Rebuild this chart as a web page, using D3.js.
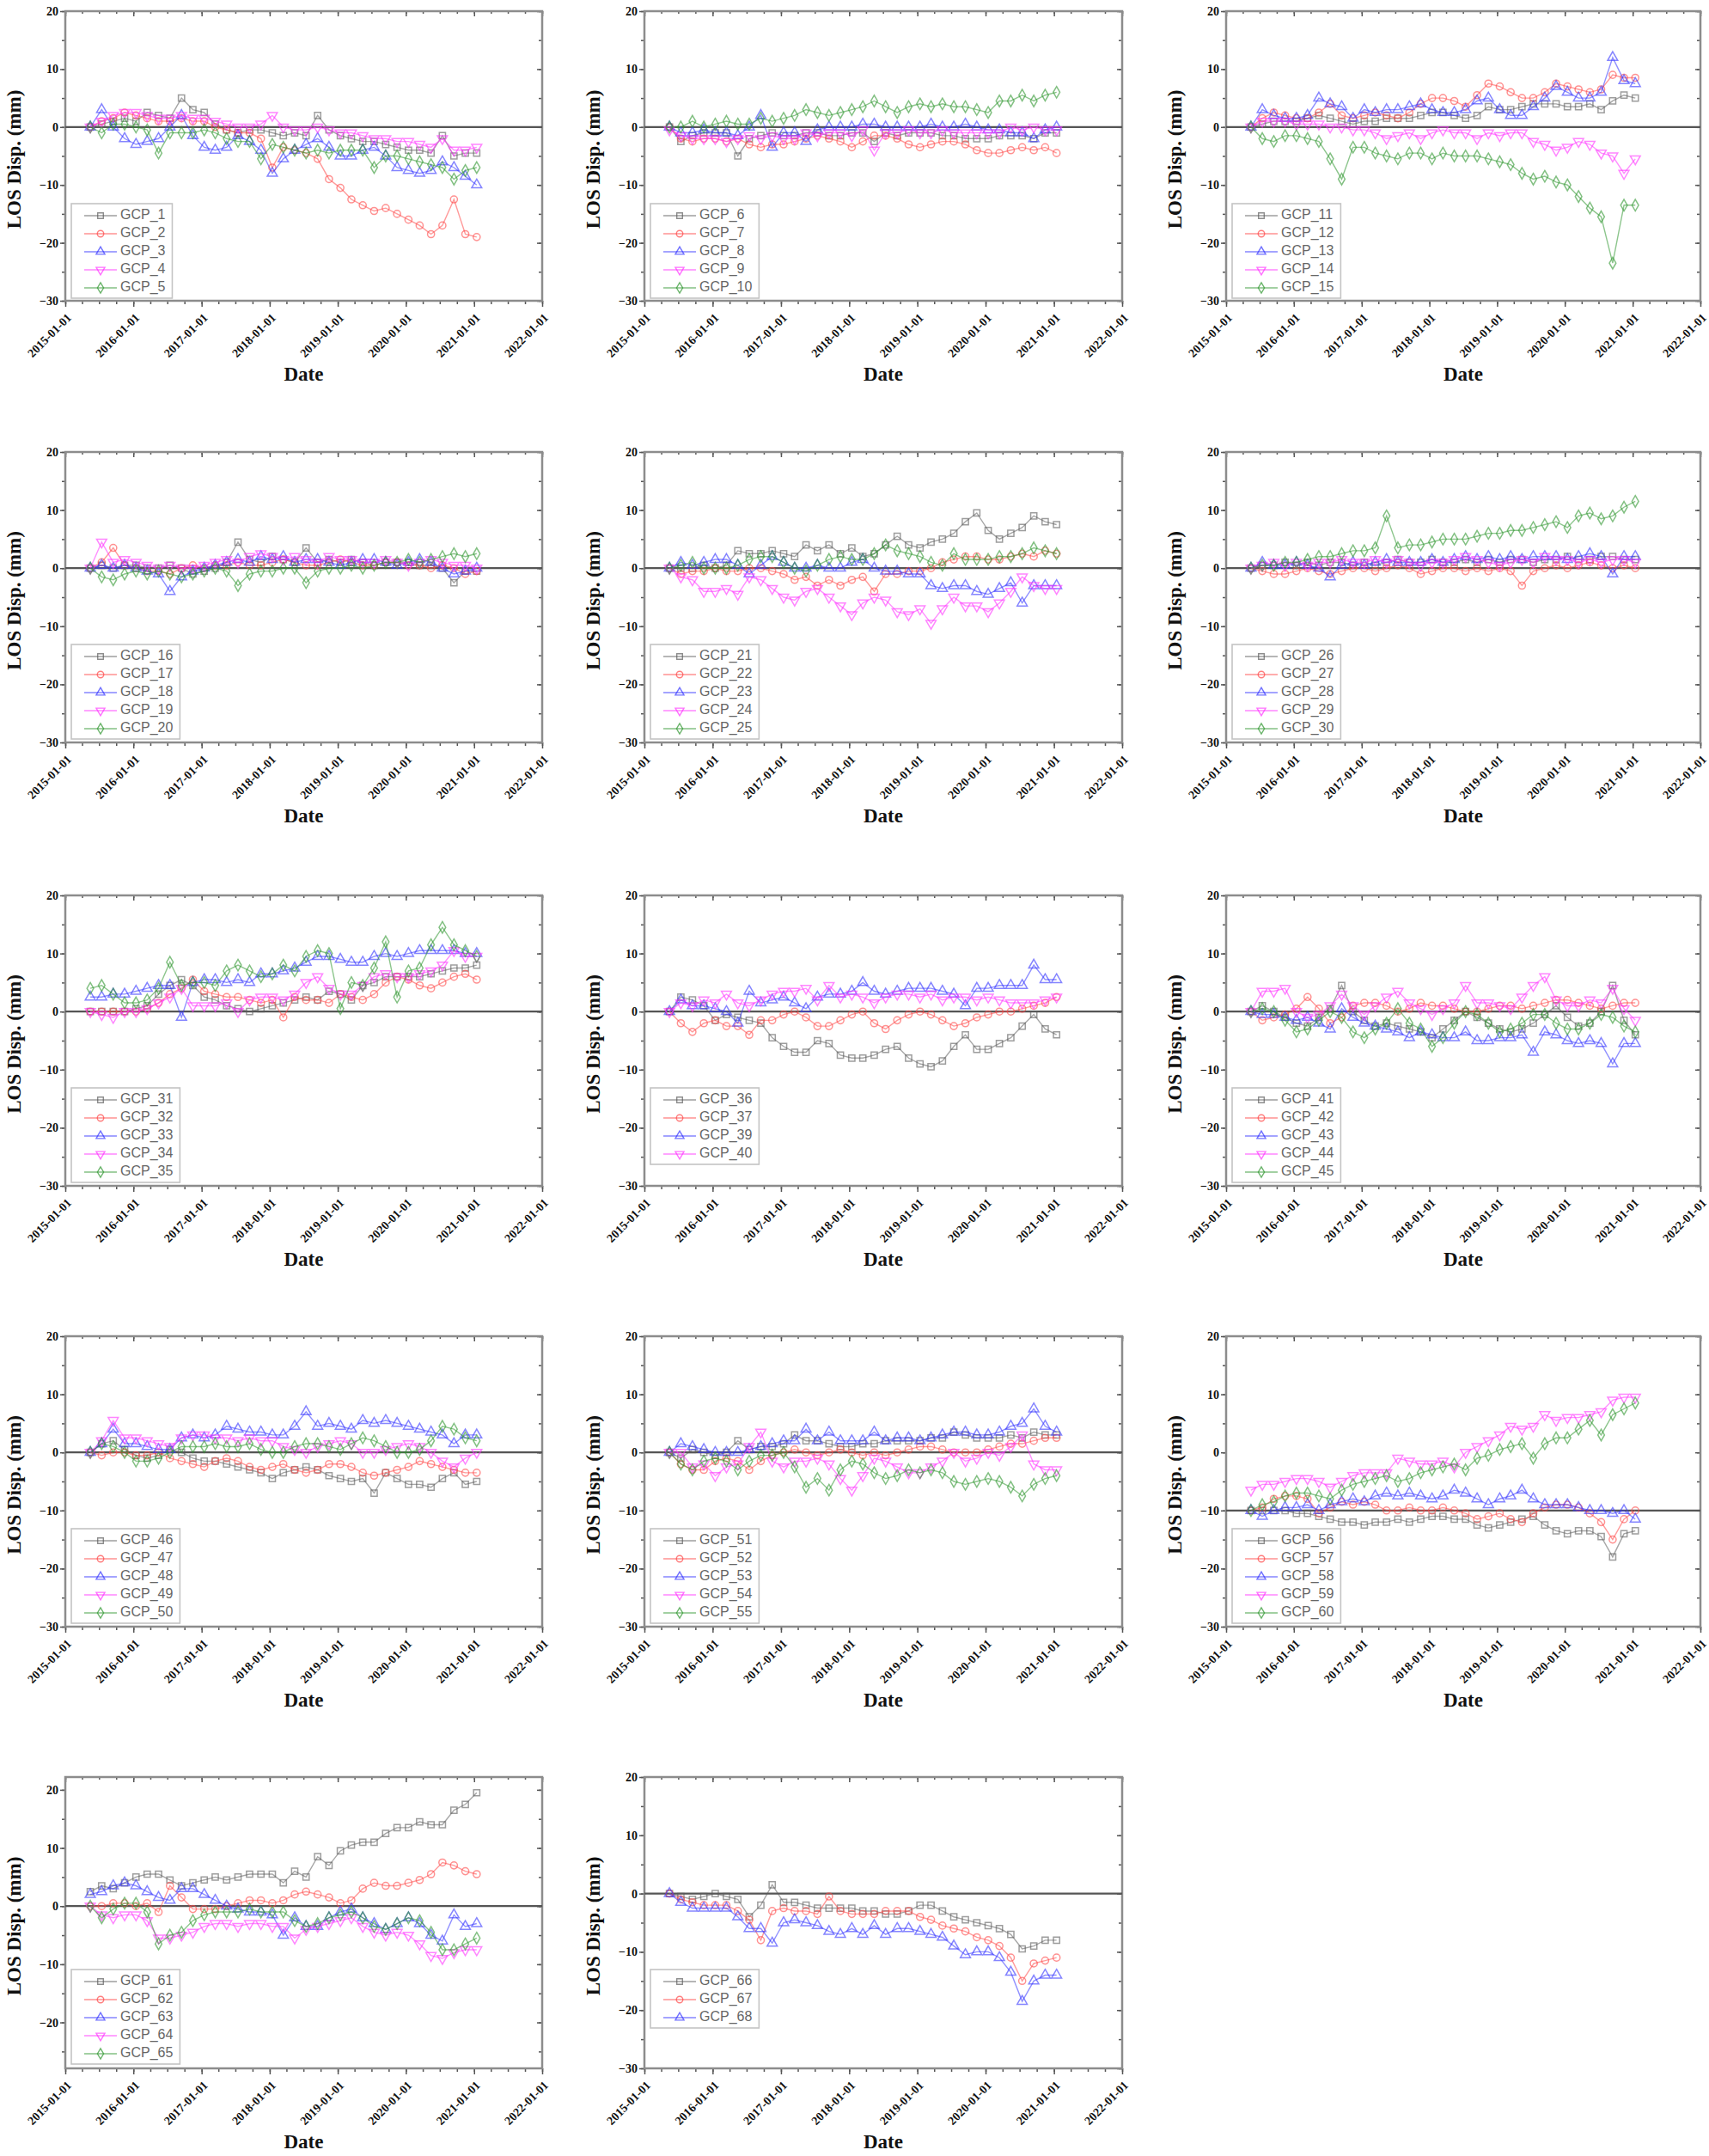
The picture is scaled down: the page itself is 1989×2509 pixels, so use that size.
<!DOCTYPE html>
<html><head><meta charset="utf-8">
<script src="https://cdn.jsdelivr.net/npm/d3@7"></script>
<style>body{margin:0;background:#fff}svg{display:block}</style>
</head><body>
<svg id="chart" width="1989" height="2509"></svg>
<script>
// ---------- DATA ----------
const dates = ["2015-05-15","2015-07-15","2015-09-15","2015-11-15","2016-01-15","2016-03-15","2016-05-15","2016-07-15","2016-09-15","2016-11-15",
"2017-01-15","2017-03-15","2017-05-15","2017-07-15","2017-09-15","2017-11-15","2018-01-15","2018-03-15","2018-05-15","2018-07-15",
"2018-09-15","2018-11-15","2019-01-15","2019-03-15","2019-05-15","2019-07-15","2019-09-15","2019-11-15","2020-01-15","2020-03-15",
"2020-05-15","2020-07-15","2020-09-15","2020-11-15","2021-01-15"];
const xTickLabels = ["2015-01-01","2016-01-01","2017-01-01","2018-01-01","2019-01-01","2020-01-01","2021-01-01","2022-01-01"];
const yTickValues = [20,10,0,-10,-20,-30];

const GCP_1 = [0,0.5,1,1.5,1,2.5,2,1.5,5,3,2.5,0.5,-0.5,-1,-0.5,-0.5,-1,-1.5,-1,-1.5,2,-0.5,-1.5,-2,-2.5,-2.5,-3,-3.5,-4,-4,-4.5,-1.5,-5,-4.5,-4.5];
const GCP_2 = [0,1,1.5,2.5,2,1.5,1,1,1.5,1,1,0,-0.5,-1,-1,-2,-7,-3.5,-4,-4.5,-5.5,-9,-10.5,-12.5,-13.5,-14.5,-14,-15,-16,-17,-18.5,-17,-12.5,-18.5,-19];
const GCP_3 = [0,3,0,-2,-3,-2.5,-2,0,2,-1.5,-3.5,-4,-3.5,-1.5,-2.5,-4,-8,-5.5,-4,-3,-2,-3.5,-5,-5,-4,-3.5,-5,-7,-7.5,-8,-7.5,-6,-7,-8.5,-10];
const GCP_4 = [0,1,2,2.5,2.5,2,1.5,1.5,2,1.5,1.5,1,0.5,0,0,0.5,2,0,-0.5,-0.5,0,-0.5,-1,-1,-1.5,-2,-2,-2.5,-2.5,-3,-3.5,-2,-4,-4,-3.5];
const GCP_5 = [0,-1,0.5,0.5,0,-0.5,-4.5,-1,-1,-1,-0.5,-1,-2,-2.5,-2.5,-5.5,-3,-3.5,-4,-4.5,-4,-4.5,-4,-4,-4,-7,-5,-5,-5.5,-6,-6.5,-7,-9,-7.5,-7];

const GCP_6 = [0,-2.5,-1.5,-1,-1,-1,-5,-2,-1.5,-1,-1.5,-1.5,-1,-1,-1.5,-1.5,-1,-1,-2.5,-1,-1.5,-1,-1,-1,-1.5,-1.5,-2,-2,-2,-1.5,-1.5,-1.5,-2,-1,-1];
const GCP_7 = [0,-2,-2.5,-2,-2,-2.5,-2,-3,-3.5,-3,-3,-2.5,-2,-1.5,-2,-2.5,-3.5,-2.5,-1.5,-1.5,-2,-3,-3.5,-3,-2.5,-2.5,-3,-4,-4.5,-4.5,-4,-3.5,-4,-3.5,-4.5];
const GCP_8 = [0,-1,-1,-0.5,-1,-1,-1.5,0,2,-3.5,-1,-1,-2.5,-0.5,0,0,0,0.5,0.5,0,0,0,0,0.5,0,0,0.5,0,-0.5,-0.5,-1,-1,-2,-0.5,0];
const GCP_9 = [-0.5,-1.5,-2,-2,-2,-2.5,-2,-1.5,-2,-1.5,-2,-2,-1,-1.5,-1,-1,-1.5,-0.5,-4,-1,-1,-0.5,-1,-1,-0.5,-1,-1,-1,-1,-1,0,-0.5,0,-0.5,-0.5];
const GCP_10 = [0,0,1,0,0.5,1,0.5,0.5,1.5,1,1.5,2,3,2.5,2,2.5,3,3.5,4.5,3.5,2.5,3.5,4,3.5,4,3.5,3.5,3,2.5,4.5,4.5,5.5,4.5,5.5,6];

const GCP_11 = [0,0.5,1,1,1,1.5,2,1.5,1,0.5,1,1,1.5,1.5,1.5,2,2.5,2.5,2,1.5,2,3.5,3,3,3.5,4,4,4,3.5,3.5,4,3,4.5,5.5,5];
const GCP_12 = [0,1.5,2.5,2,1.5,1.5,2.5,4,2,1.5,2,2.5,2,1.5,2.5,4,5,5,4.5,3.5,5.5,7.5,7,6,5,5,6,7.5,7,6.5,6,6.5,9,8.5,8.5];
const GCP_13 = [0,3,2,1.5,1.5,2,5,4,3.5,1.5,3,2.5,3,3,3.5,4,3,2.5,2.5,3,4.5,5,3,2,2,3.5,5,7,6,5,5,6,12,8,7.5];
const GCP_14 = [0,1,1,1,0.5,0.5,0.5,0,0,-0.5,-0.5,-1,-2,-1.5,-1,-2,-1,-0.5,-1,-1,-2,-1,-1.5,-1,-1,-2.5,-3,-4,-3.5,-2.5,-3,-4.5,-5,-8,-5.5];
const GCP_15 = [0,-2,-2.5,-1.5,-1.5,-2,-2.5,-5.5,-9,-3.5,-3.5,-4.5,-5,-5.5,-4.5,-4.5,-5.5,-4.5,-5,-5,-5,-5.5,-6,-6.5,-8,-9,-8.5,-9.5,-10,-12,-14,-15.5,-23.5,-13.5,-13.5];

const GCP_16 = [0,0.5,0,0.5,0.5,0,0,0.5,0,-1,-0.5,0,1,4.5,1.5,1,2,1.5,1,3.5,1,1.5,1,1.5,1,0.5,1,1,1,0.5,0.5,0,-2.5,-0.5,-0.5];
const GCP_17 = [0,1,3.5,0.5,0,-0.5,-0.5,-1,0,0.5,0,0.5,0.5,1,0.5,0.5,1,1.5,1,0.5,0.5,1,1.5,1,0.5,0.5,1,1,0.5,0.5,0,0.5,0,-1,-0.5];
const GCP_18 = [0,0.5,0,0.5,0,-0.5,-1,-4,-1.5,-0.5,0,0.5,1,1.5,1,2,1.5,2,1,1.5,1.5,1,0.5,1,1.5,1.5,1,0.5,1,1.5,1,0,-1,-0.5,0];
const GCP_19 = [0,4.5,1,1.5,1,0.5,0,0.5,0,0,0.5,1,1.5,1,2,2.5,2,1.5,2,1.5,1,2,1.5,1.5,1,1,1.5,1,0.5,1,1.5,1,0.5,0.5,0];
const GCP_20 = [0,-1.5,-2,-1,-0.5,-1,-0.5,-1,-1.5,-1,-0.5,0,-0.5,-3,-1,-0.5,-0.5,0,0,-2.5,-0.5,0,0,0.5,0,0.5,1,1,1.5,1,1.5,2,2.5,2,2.5];

const GCP_21 = [0,0,0,0.5,0,0.5,3,2.5,2.5,3,2.5,2,4,3,4,2.5,3.5,2,2.5,4,5.5,4,3.5,4.5,5,6,8,9.5,6.5,5,6,7,9,8,7.5];
const GCP_22 = [0,-1,-0.5,-0.5,0,-0.5,-0.5,0,0,-0.5,-1,-2,-1.5,-3,-2,-3,-2,-1.5,-4,-1,-1,-0.5,-0.5,0,1,1.5,2,2,1.5,1.5,2,2.5,2,3,2.5];
const GCP_23 = [0,1,0.5,1,1.5,1.5,0.5,-1,0.5,2,1,0,0,0.5,0,0,1,1.5,0,-0.5,-0.5,-1,-1,-3,-3.5,-3,-3,-4,-4.5,-3.5,-2.5,-6,-3,-3,-3];
const GCP_24 = [0,-1.5,-2,-4,-4,-3.5,-4.5,-1.5,-2,-3.5,-5,-5.5,-4,-3.5,-5,-6.5,-8,-6,-5,-5.5,-7.5,-8,-7,-9.5,-7,-5,-6.5,-6.5,-7.5,-6,-4,-1.5,-3,-3.5,-3.5];
const GCP_25 = [0,0.5,1,0,0,0,0.5,1.5,2,2,1,0,-0.5,0.5,1.5,2,1.5,1.5,2.5,4,3,2.5,2,1,0.5,2.5,1.5,1.5,1.5,2,2,2.5,3.5,3,2.5];

const GCP_26 = [0,0.5,0.5,1,0.5,1,0.5,1,1,0.5,1,0.5,1,1.5,1,1,1.5,1,1,1.5,1,1.5,1,1.5,1.5,1,1.5,1.5,2,1.5,1.5,2,2,1.5,1.5];
const GCP_27 = [0,-0.5,-1,-1,-0.5,0,-0.5,-1,-0.5,0,0,-0.5,0,0.5,0,-1,-0.5,0,0,-0.5,0,-0.5,0,-0.5,-3,-0.5,0,0.5,0,0.5,1,0.5,0,0.5,0];
const GCP_28 = [0,1,0.5,0.5,1,0.5,0,-1.5,0.5,1,0.5,1,1.5,1,1,1,1.5,1,1.5,2,1.5,2,1.5,2,1.5,2,2,2,1.5,2,2.5,2,-1,2,2];
const GCP_29 = [0,0.5,1,0.5,1,0.5,1,1,1.5,1,1,1.5,1,1.5,1,0.5,1,1,1.5,2,1.5,1,0.5,1,1.5,1,2,1.5,1.5,1,1.5,1,1.5,1.5,1];
const GCP_30 = [0,0.5,0.5,1,1,1.5,2,2,2.5,3,3,3.5,9,3.5,4,4,4.5,5,5,5,5.5,6,6,6.5,6.5,7,7.5,8,7,9,9.5,8.5,9,10.5,11.5];

const GCP_31 = [0,0,0,0,0.5,1,3,4.5,5.5,4.5,2.5,2,1,0.5,0,0.5,1,1.5,2,2.5,2,3.5,3,2,4.5,5,6,6,6,6,6.5,7,7.5,7.5,8];
const GCP_32 = [0,0,0,0,0,0.5,1.5,3,4,5.5,3.5,3,2.5,2.5,2,1.5,2,-1,2.5,2,2,1.5,3,2.5,2,3,5,6,5.5,4.5,4,5,6,6.5,5.5];
const GCP_33 = [2.5,2.5,3,3,3.5,4,4.5,4.5,-1,5,5.5,5.5,5,5.5,5,6.5,6.5,7,7.5,8.5,9.5,9.5,9,8.5,8.5,9.5,10,9.5,10,10.5,10.5,10.5,10.5,10,10];
const GCP_34 = [0,-0.5,-1,0,0,0.5,1.5,2.5,4,1,1,1,1.5,0,2,2.5,2.5,2,3,5,6,4,3,3,4.5,6,6.5,6,6,6.5,7,8,10.5,9.5,9.5];
const GCP_35 = [4,4.5,3,1.5,1.5,2,4,8.5,4.5,5,5,4.5,7,8,7,6,6.5,8,7,9.5,10.5,10,0.5,5,4.5,7.5,12,2.5,7,7.5,11.5,14.5,11.5,10.5,9.5];

const GCP_36 = [0,2.5,2,1,-1.5,-0.5,-1,-1.5,-2,-4.5,-6,-7,-7,-5,-5.5,-7.5,-8,-8,-7.5,-6.5,-6,-8,-9,-9.5,-8.5,-6,-4,-6.5,-6.5,-5.5,-4.5,-2.5,-0.5,-3,-4];
const GCP_37 = [0,-2,-3.5,-2,-1.5,-2.5,-2.5,-4,-1.5,-1.5,-0.5,0,-1,-2.5,-2.5,-1.5,-0.5,0,-2,-3,-1.5,-0.5,0,-0.5,-1.5,-2.5,-2,-1,-0.5,0,0,0.5,1,1.5,2.5];
const GCP_39 = [0,2,1,1,0.5,0,-2,3.5,1.5,2,2.5,1.5,0.5,2.5,3,3,3.5,5,3.5,3,3.5,4,4,4,3.5,3,1,4,4,4.5,4.5,4.5,8,5.5,5.5];
const GCP_40 = [0,1.5,1,2,1.5,3,1.5,1,2,3,3.5,3.5,4,2,4.5,2.5,3,2.5,1.5,2.5,3,3,2.5,3,2,2.5,2.5,2,2.5,2,1.5,1.5,1.5,2,2.5];

const GCP_41 = [0,1,0,-1,-2,-2.5,-1,0.5,4.5,0,-1.5,-2.5,-2,-2.5,-3,-3.5,-4.5,-3,-1.5,0,-1,-2,-3,-3.5,-3,-2,-0.5,1,-1,-2.5,-2,0,4.5,-1.5,-4];
const GCP_42 = [0,-1.5,-1,-0.5,0.5,2.5,0.5,-2,-1,1,1.5,1.5,1,0,0.5,1.5,1,1,0.5,0,0,0.5,1,1,0.5,1,1.5,2,2,1.5,1,0.5,1,1.5,1.5];
const GCP_43 = [0,-0.5,-0.5,-1,-1.5,-1,-2,-3,0.5,-1,-2,-2.5,-3,-3.5,-4.5,-3.5,-4,-4.5,-4.5,-3.5,-5,-5,-4.5,-4.5,-4,-7,-3.5,-4,-5,-5.5,-5,-5.5,-9,-5.5,-5.5];
const GCP_44 = [0,3.5,3.5,4,0,-1,-0.5,1,3,1,-0.5,1,2.5,3.5,1.5,0.5,-0.5,0.5,1.5,4.5,1.5,1.5,1,0.5,2.5,4.5,6,2,1,1,2,1.5,4,0.5,-1.5];
const GCP_45 = [0,0.5,0,-1.5,-3.5,-3,-1.5,0,-1,-3.5,-4.5,-3,-2,0.5,-2,-3,-6,-4.5,-2,0,-0.5,-2,-3.5,-3,-2,-0.5,-0.5,-2,-3,-3,-2,-0.5,-1,-2.5,-3.5];

const GCP_46 = [0,1.5,2,0.5,-0.5,-1,-0.5,0.5,0,-1,-1.5,-1.5,-2,-2.5,-3,-3.5,-4.5,-3.5,-3,-2.5,-3,-4,-4.5,-5,-4.5,-7,-3.5,-4.5,-5.5,-5.5,-6,-4.5,-3.5,-5.5,-5];
const GCP_47 = [0,-0.5,0,0,-0.5,-0.5,0,-1,-1.5,-2,-2.5,-1.5,-1,-1.5,-2.5,-3,-2.5,-2,-3,-3.5,-3,-2,-2,-2.5,-3.5,-4,-3.5,-3,-2.5,-1.5,-2,-2.5,-3,-3.5,-3.5];
const GCP_48 = [0,1.5,4,1.5,1.5,1,0.5,0.5,2.5,3,2.5,3,4.5,4,3.5,3.5,3,3,4.5,7,4.5,5,4.5,4,5.5,5,5.5,5,4.5,4,3.5,3,1.5,3,3];
const GCP_49 = [0,2,5.5,2.5,2.5,2,1.5,1,2.5,3,3,2.5,2.5,2,2.5,2,2,1,0.5,0,1,1.5,2,1.5,0,0,0.5,1,1.5,1,0,-1.5,-2.5,-1,0];
const GCP_50 = [0,1.5,1,0,-1.5,-1.5,-1,0,1,1,1,1.5,1,1,1.5,0.5,0,0,1,1.5,1.5,1,0.5,1.5,2.5,2,1,0,0,0.5,2,4.5,4,2.5,2];

const GCP_51 = [0,-1,0.5,0,-0.5,0,2,0.5,1,1,1.5,3,2,2,1.5,1,1,1.5,1.5,2,2,2,2,2.5,2.5,3.5,3,2.5,2.5,2.5,3,2.5,3.5,3,3];
const GCP_52 = [0,-2,-3,-3,-1.5,-1,-1.5,-3,-1.5,-0.5,0,0.5,0,-0.5,0,0.5,0,-0.5,0,-0.5,0,0.5,1,1,0.5,0,0,0,0.5,1,1.5,1.5,2,2.5,2.5];
const GCP_53 = [0,1.5,1,0.5,0,0,0,0.5,1,1.5,2,2,4,2,3.5,2,2,2,3.5,2,2.5,2.5,2,2.5,3,3.5,3.5,3,3,3.5,4.5,5,7.5,4.5,3.5];
const GCP_54 = [0,0,-2.5,-2,-4,-2.5,-2,1,3.5,-1.5,-2.5,-1.5,-1.5,-1,-2,-4.5,-6.5,-4,-1,-1.5,-2.5,-3.5,-3.5,-2.5,-1.5,0,-1.5,-1,0,-0.5,1,3,-2,-3,-3];
const GCP_55 = [0,-2,-3,-1.5,-1,-1.5,-3,-1.5,-0.5,-0.5,0,-2.5,-6,-4.5,-6.5,-3,-1.5,-2,-3.5,-4.5,-4,-3,-3.5,-3,-3.5,-5,-5.5,-5,-4.5,-5,-6,-7.5,-5.5,-4.5,-4];

const GCP_56 = [-10,-10,-10,-10,-10.5,-10.5,-11,-11.5,-12,-12,-12.5,-12,-12,-11.5,-12,-11.5,-11,-11,-11.5,-11.5,-12.5,-13,-12.5,-12,-11.5,-11,-12.5,-13.5,-14,-13.5,-13.5,-14.5,-18,-14,-13.5];
const GCP_57 = [-10,-9.5,-8,-7.5,-7.5,-8,-10.5,-9.5,-8.5,-9,-8.5,-9,-10,-10,-9.5,-10,-10,-9.5,-10,-10.5,-11.5,-11,-10.5,-11.5,-12,-10.5,-9.5,-9,-9,-9.5,-10.5,-12,-15,-11.5,-10];
const GCP_58 = [-10,-11,-10,-9.5,-9.5,-9,-10,-9,-8.5,-8,-8.5,-7.5,-7,-7.5,-7,-7.5,-8,-7.5,-6.5,-7,-8,-9,-8,-7.5,-6.5,-8,-9,-9,-9,-9.5,-10,-10,-10.5,-10,-11.5];
const GCP_59 = [-6.5,-5.5,-5.5,-5,-4.5,-4.5,-5,-6,-5,-4,-3.5,-3.5,-3.5,-1,-1.5,-2,-2,-1.5,-2.5,0,1,2,3,4.5,4,4.5,6.5,5.5,6,6,6.5,7,9,9.5,9.5];
const GCP_60 = [-10,-9,-8.5,-7.5,-7,-7,-7.5,-8,-6.5,-5.5,-5,-4.5,-4,-5,-4.5,-3.5,-3,-2.5,-2,-3,-1,-0.5,0.5,1,1.5,-1,1.5,2.5,2.5,4,5.5,3,6.5,7.5,8.5];

const GCP_61 = [2.5,3.5,3,4,5,5.5,5.5,4.5,3.5,4,4.5,5,4.5,5,5.5,5.5,5.5,4,6,5,8.5,7,9.5,10.5,11,11,12.5,13.5,13.5,14.5,14,14,16.5,17.5,19.5];
const GCP_62 = [0,0,0.5,0.5,0,0.5,-1,3.5,1.5,-0.5,-0.5,-0.5,0,0.5,1,1,0.5,1,2,2.5,2,1.5,0.5,1,3,4,3.5,3.5,4,4.5,5.5,7.5,7,6,5.5];
const GCP_63 = [2,2.5,3.5,4,3.5,2.5,1.5,1,3,3,2,1,0,-0.5,-1,-1,-1.5,-5,-2,-3.5,-3.5,-2,-1,-0.5,-2,-3,-4,-3,-2,-3,-5,-6,-1.5,-3.5,-3];
const GCP_64 = [0,-1.5,-2,-1.5,-1.5,-2.5,-5.5,-5.5,-5,-4.5,-3.5,-3,-3,-3.5,-3,-3,-3.5,-3.5,-5.5,-4,-3.5,-3,-2.5,-2,-3.5,-4.5,-5,-4.5,-5,-6.5,-8.5,-9,-8,-7.5,-7.5];
const GCP_65 = [0,-2,-0.5,0.5,0.5,-1,-6.5,-5,-4.5,-2.5,-1.5,-1,-1,-1,-0.5,-1,-1,-1,-2.5,-3.5,-3,-2,-1.5,-1,-2,-3.5,-4,-3,-2,-2.5,-4.5,-7.5,-7.5,-6.5,-5.5];

const GCP_66 = [0,-0.5,-1,-0.5,0,-0.5,-1,-4,-2,1.5,-1.5,-1.5,-2,-2.5,-2.5,-2.5,-2.5,-3,-3,-3.5,-3.5,-3,-2,-2,-3,-4,-4.5,-5,-5.5,-6,-7,-9.5,-9,-8,-8];
const GCP_67 = [0,-1,-1.5,-2,-2,-2,-3,-4.5,-8,-3,-2.5,-3,-3,-3.5,-0.5,-3,-3.5,-3.5,-3.5,-3,-3,-3,-4,-4.5,-5.5,-6,-6.5,-7.5,-8,-9,-11,-15,-12,-11.5,-11];
const GCP_68 = [0,-1.5,-2.5,-2.5,-2.5,-2.5,-4,-6,-6,-8.5,-5,-4.5,-5,-5.5,-6.5,-7,-6,-7,-5.5,-7,-6,-6,-6.5,-7,-7.5,-9,-10.5,-10,-10,-11,-13.5,-18.5,-15,-14,-14];

// panels: series names, y-domain, reference line
const panelSeries = [
  ["GCP_1","GCP_2","GCP_3","GCP_4","GCP_5"],
  ["GCP_6","GCP_7","GCP_8","GCP_9","GCP_10"],
  ["GCP_11","GCP_12","GCP_13","GCP_14","GCP_15"],
  ["GCP_16","GCP_17","GCP_18","GCP_19","GCP_20"],
  ["GCP_21","GCP_22","GCP_23","GCP_24","GCP_25"],
  ["GCP_26","GCP_27","GCP_28","GCP_29","GCP_30"],
  ["GCP_31","GCP_32","GCP_33","GCP_34","GCP_35"],
  ["GCP_36","GCP_37","GCP_39","GCP_40"],
  ["GCP_41","GCP_42","GCP_43","GCP_44","GCP_45"],
  ["GCP_46","GCP_47","GCP_48","GCP_49","GCP_50"],
  ["GCP_51","GCP_52","GCP_53","GCP_54","GCP_55"],
  ["GCP_56","GCP_57","GCP_58","GCP_59","GCP_60"],
  ["GCP_61","GCP_62","GCP_63","GCP_64","GCP_65"],
  ["GCP_66","GCP_67","GCP_68"]
];
const panelYMin = [-30,-30,-30,-30,-30,-30,-30,-30,-30,-30,-30,-30,-27.9,-30];
const panelYMax = [20,20,20,20,20,20,20,20,20,20,20,20,22.2,20];
const panelRefLine = [0,0,0,0,0,0,0,0,0,0,0,-10,0,0];

const values = {GCP_1,GCP_2,GCP_3,GCP_4,GCP_5,GCP_6,GCP_7,GCP_8,GCP_9,GCP_10,GCP_11,GCP_12,GCP_13,GCP_14,GCP_15,
GCP_16,GCP_17,GCP_18,GCP_19,GCP_20,GCP_21,GCP_22,GCP_23,GCP_24,GCP_25,GCP_26,GCP_27,GCP_28,GCP_29,GCP_30,
GCP_31,GCP_32,GCP_33,GCP_34,GCP_35,GCP_36,GCP_37,GCP_39,GCP_40,GCP_41,GCP_42,GCP_43,GCP_44,GCP_45,
GCP_46,GCP_47,GCP_48,GCP_49,GCP_50,GCP_51,GCP_52,GCP_53,GCP_54,GCP_55,GCP_56,GCP_57,GCP_58,GCP_59,GCP_60,
GCP_61,GCP_62,GCP_63,GCP_64,GCP_65,GCP_66,GCP_67,GCP_68};

// ---------- STYLE / LAYOUT ----------
const colX = [[76,631],[750,1306],[1427,1979]];
const rowY = [[13,350],[526,864],[1042,1380],[1555,1893],[2068,2407]];
const colors = ["#5c5c5c","#ff4747","#3434ff","#ff33ff","#2e962e"];
const symTypes = [d3.symbolSquare, d3.symbolCircle, d3.symbolTriangle, d3.symbolTriangle, d3.symbolDiamond];
const symRot = [0,0,0,180,0];
const serif = "'Liberation Serif','Times New Roman',serif";
const sans = "'Liberation Sans',Arial,sans-serif";

const parse = d3.timeParse("%Y-%m-%d");
const dateObjs = dates.map(parse);
const xTicks = xTickLabels.map(parse);
const fmt = d3.timeFormat("%Y-%m-%d");
const minorX = d3.timeMonth.every(3).range(parse("2015-01-01"), parse("2022-01-02"));

const svg = d3.select("#chart");
svg.append("rect").attr("width",1989).attr("height",2509).attr("fill","#fff");

panelSeries.forEach((names, p) => {
  const col = p % 3, row = Math.floor(p / 3);
  const [L, R] = colX[col], [T, B] = rowY[row];
  const x = d3.scaleTime().domain([parse("2015-01-01"), parse("2022-01-01")]).range([L, R]);
  const y = d3.scaleLinear().domain([panelYMin[p], panelYMax[p]]).range([B, T]);
  const g = svg.append("g");

  const yt = yTickValues.filter(v => v >= panelYMin[p] && v <= panelYMax[p]);
  const yMinor = d3.range(-30, 25, 5).filter(v => v >= panelYMin[p] && v <= panelYMax[p]);

  const styleAxis = a => { a.select(".domain").remove(); a.selectAll("line").attr("stroke","#555").attr("stroke-width",1.5); };
  g.append("g").attr("transform",`translate(0,${B})`).call(d3.axisBottom(x).tickValues(minorX).tickSize(4).tickFormat("")).call(styleAxis);
  g.append("g").attr("transform",`translate(0,${T})`).call(d3.axisBottom(x).tickValues(minorX).tickSize(3).tickFormat("")).call(styleAxis);
  g.append("g").attr("transform",`translate(${L},0)`).call(d3.axisLeft(y).tickValues(yMinor).tickSize(4).tickFormat("")).call(styleAxis);
  g.append("g").attr("transform",`translate(${R},0)`).call(d3.axisLeft(y).tickValues(yMinor).tickSize(4).tickFormat("")).call(styleAxis);

  const bx = g.append("g").attr("transform",`translate(0,${B})`)
    .call(d3.axisBottom(x).tickValues(xTicks).tickSize(7).tickFormat(fmt)).call(styleAxis);
  bx.selectAll("text").attr("x",0).attr("y",0).attr("dy","0.35em")
    .attr("transform","translate(4,17) rotate(-45)").style("text-anchor","end")
    .attr("font-family",serif).attr("font-weight","bold").attr("font-size",14).attr("fill","#111");
  g.append("g").attr("transform",`translate(0,${T})`).call(d3.axisBottom(x).tickValues(xTicks).tickSize(6).tickFormat("")).call(styleAxis);
  const ly = g.append("g").attr("transform",`translate(${L},0)`)
    .call(d3.axisLeft(y).tickValues(yt).tickSize(6).tickPadding(2).tickFormat(d3.format("d"))).call(styleAxis);
  ly.selectAll("text").attr("font-family",serif).attr("font-weight","bold").attr("font-size",14).attr("fill","#111");
  g.append("g").attr("transform",`translate(${R},0)`).call(d3.axisLeft(y).tickValues(yt).tickSize(6).tickFormat("")).call(styleAxis);

  g.append("rect").attr("x",L).attr("y",T).attr("width",R-L).attr("height",B-T)
    .attr("fill","none").attr("stroke","#8c8c8c").attr("stroke-width",2.5);

  g.append("line").attr("x1",L).attr("x2",R).attr("y1",y(panelRefLine[p])).attr("y2",y(panelRefLine[p]))
    .attr("stroke","#555").attr("stroke-width",2.2);

  names.forEach((name, k) => {
    const vals = values[name];
    const pts = vals.map((v, i) => [dateObjs[i], v]);
    const line = d3.line().x(d => x(d[0])).y(d => y(d[1]));
    g.append("path").attr("d", line(pts)).attr("fill","none").attr("stroke",colors[k])
      .attr("stroke-width",1.4).attr("stroke-opacity",0.55);
    const sym = d3.symbol().type(symTypes[k]).size(k === 2 || k === 3 ? 60 : 52);
    g.append("g").selectAll("path").data(pts).join("path")
      .attr("d", sym)
      .attr("transform", d => `translate(${x(d[0])},${y(d[1])}) rotate(${symRot[k]})`)
      .attr("fill","none").attr("stroke",colors[k]).attr("stroke-width",1.5).attr("stroke-opacity",0.6);
  });

  g.append("text").attr("transform",`translate(${L-57},${(T+B)/2+4}) rotate(-90)`)
    .attr("text-anchor","middle").attr("dominant-baseline","middle")
    .attr("font-family",serif).attr("font-weight","bold").attr("font-size",23).attr("fill","#111")
    .text("LOS Disp. (mm)");
  g.append("text").attr("x",(L+R)/2).attr("y",B+88)
    .attr("text-anchor","middle").attr("dominant-baseline","middle")
    .attr("font-family",serif).attr("font-weight","bold").attr("font-size",23).attr("fill","#111")
    .text("Date");

  const lx = L + 7, ly0 = T + 224;
  const lg = g.append("g");
  const box = lg.append("rect").attr("x",lx).attr("y",ly0).attr("height",names.length*21+5)
    .attr("fill","#fff").attr("stroke","#c4c4c4").attr("stroke-width",1.6);
  let maxW = 0;
  names.forEach((name, k) => {
    const cy = ly0 + 14 + 21*k;
    lg.append("line").attr("x1",lx+15).attr("x2",lx+53).attr("y1",cy).attr("y2",cy)
      .attr("stroke",colors[k]).attr("stroke-width",1.4).attr("stroke-opacity",0.6);
    lg.append("path").attr("d", d3.symbol().type(symTypes[k]).size(44)())
      .attr("transform",`translate(${lx+34},${cy}) rotate(${symRot[k]})`)
      .attr("fill","none").attr("stroke",colors[k]).attr("stroke-width",1.4).attr("stroke-opacity",0.7);
    const t = lg.append("text").attr("x",lx+57).attr("y",cy).attr("dominant-baseline","middle")
      .attr("font-family",sans).attr("font-size",16).attr("fill","#666").text(name);
    maxW = Math.max(maxW, t.node().getComputedTextLength());
  });
  box.attr("width", 57 + maxW + 8);
});
</script>
</body></html>
